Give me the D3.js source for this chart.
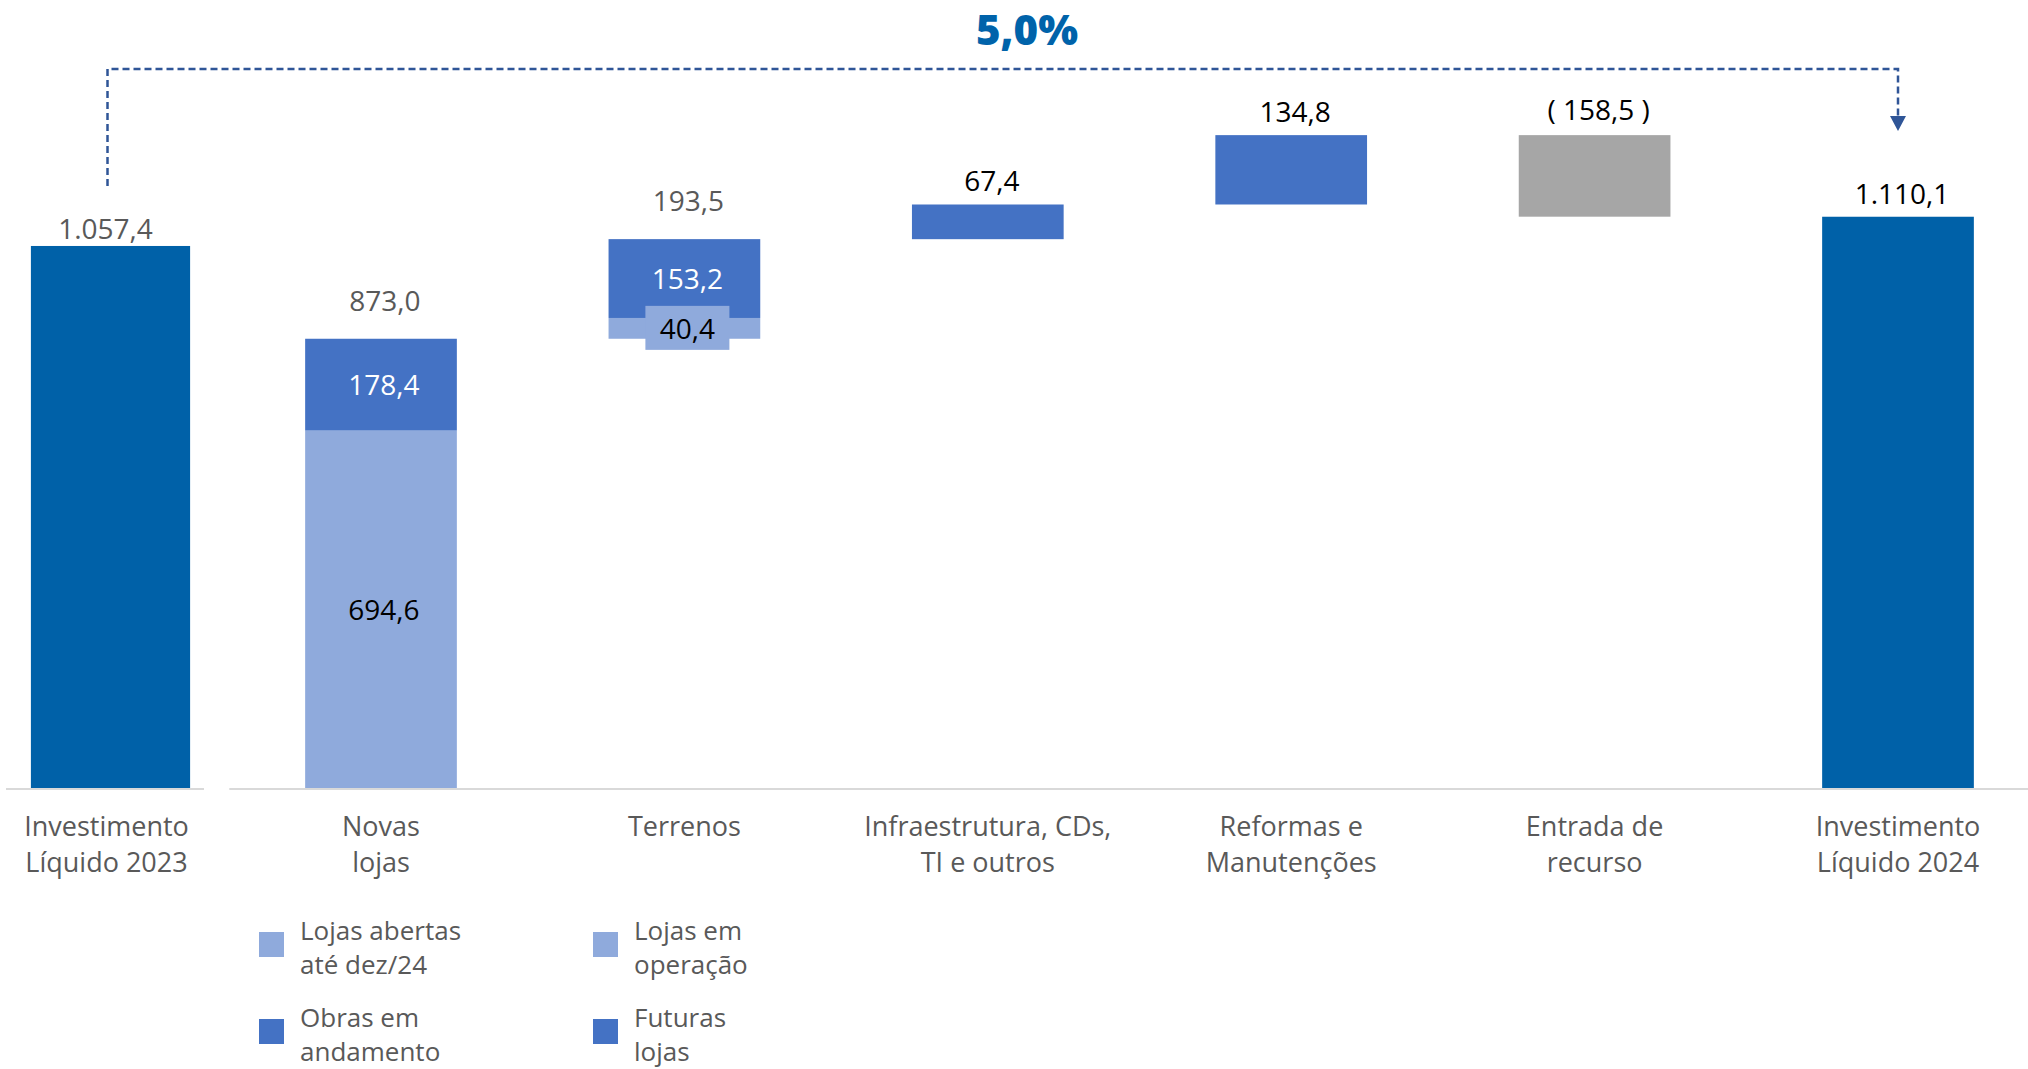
<!DOCTYPE html>
<html>
<head>
<meta charset="utf-8">
<script src="https://cdn.jsdelivr.net/npm/d3@7"></script>
<style>
  html, body { margin: 0; padding: 0; background: #ffffff; }
  svg { display: block; font-family: "Open Sans", "Noto Sans", sans-serif; }
</style>
</head>
<body>
<script>
// ---------------- DATA ----------------
const firstCategory = ["Investimento\nLíquido 2023"];
const firstValue = [1057.4];

const categories = [
  "Novas\nlojas",
  "Terrenos",
  "Infraestrutura, CDs,\nTI e outros",
  "Reformas e\nManutenções",
  "Entrada de\nrecurso",
  "Investimento\nLíquido 2024"
];
// change of each step (last one is the final total)
const stepValues = [873.0, 193.5, 67.4, 134.8, -158.5, 1110.1];
// stacked split for the first two steps
const lightParts = [694.6, 40.4];
const darkParts = [178.4, 153.2];

const growthLabel = "5,0%";

const legendLabels = [
  ["Lojas abertas", "até dez/24"],
  ["Lojas em", "operação"],
  ["Obras em", "andamento"],
  ["Futuras", "lojas"]
];

// ---------------- STYLE ----------------
const C_TOTAL = "#0061A8";
const C_DARK = "#4472C4";
const C_LIGHT = "#8FAADC";
const C_GRAY = "#A6A6A6";
const C_LINE = "#2F5597";
const C_TEXT = "#595959";
const legendColors = [C_LIGHT, C_LIGHT, C_DARK, C_DARK];

const W = 2028, H = 1069;
const baseY = 788;

const loc = d3.formatLocale({decimal: ",", thousands: ".", grouping: [3], currency: ["R$", ""]});
const f1 = loc.format(",.1f");
const fmt = v => v < 0 ? "( " + f1(-v) + " )" : f1(v);

const svg = d3.select("body").append("svg")
  .attr("width", W).attr("height", H);

// ---------------- SCALES ----------------
const x1 = d3.scaleBand().domain(firstCategory).range([11, 210])
  .paddingInner(0).paddingOuter(0.125);
const y1 = d3.scaleLinear().domain([0, 1100]).range([baseY, baseY - 1100 * 0.5126]);

const x2 = d3.scaleBand().domain(categories).range([229.3, 2049.7])
  .paddingInner(0.5).paddingOuter(0.25);
const y2 = d3.scaleLinear().domain([0, 1300]).range([baseY, baseY - 1300 * 0.5146]);

// ---------------- AXIS LINES ----------------
svg.append("line").attr("x1", 6).attr("x2", 204).attr("y1", baseY + 1).attr("y2", baseY + 1)
  .attr("stroke", "#D9D9D9").attr("stroke-width", 2);
svg.append("line").attr("x1", x2.range()[0]).attr("x2", W).attr("y1", baseY + 1).attr("y2", baseY + 1)
  .attr("stroke", "#D9D9D9").attr("stroke-width", 2);

// ---------------- PANEL 1 ----------------
svg.selectAll("rect.p1").data(firstCategory).enter().append("rect")
  .attr("class", "p1")
  .attr("x", d => x1(d)).attr("width", x1.bandwidth())
  .attr("y", (d, i) => y1(firstValue[i]))
  .attr("height", (d, i) => y1(0) - y1(firstValue[i]))
  .attr("fill", C_TOTAL);

svg.selectAll("text.p1lab").data(firstCategory).enter().append("text")
  .attr("class", "p1lab")
  .attr("x", d => x1(d) + x1.bandwidth() / 2 - 5)
  .attr("y", (d, i) => y1(firstValue[i]) - 7)
  .attr("text-anchor", "middle").attr("font-size", 28).attr("fill", C_TEXT)
  .text((d, i) => fmt(firstValue[i]));

// ---------------- PANEL 2 (waterfall) ----------------
const segs = [];
const topLabels = [];
let run = 0;
categories.forEach((c, i) => {
  const v = stepValues[i];
  if (i < lightParts.length) {
    segs.push({c, y0: run, y1: run + lightParts[i], fill: C_LIGHT, label: fmt(lightParts[i]), lc: "#000", lightLabel: true});
    segs.push({c, y0: run + lightParts[i], y1: run + lightParts[i] + darkParts[i], fill: C_DARK, label: fmt(darkParts[i]), lc: "#fff"});
    topLabels.push({c, top: run + v, text: fmt(v), color: C_TEXT, off: 28});
    run += v;
  } else if (i === categories.length - 1) {
    segs.push({c, y0: 0, y1: v, fill: C_TOTAL});
    topLabels.push({c, top: v, text: fmt(v), color: "#000", off: 13});
  } else if (v < 0) {
    segs.push({c, y0: run + v, y1: run, fill: C_GRAY});
    topLabels.push({c, top: run, text: fmt(v), color: "#000", off: 15});
    run += v;
  } else {
    segs.push({c, y0: run, y1: run + v, fill: C_DARK});
    topLabels.push({c, top: run + v, text: fmt(v), color: "#000", off: 13});
    run += v;
  }
});

svg.selectAll("rect.seg").data(segs).enter().append("rect")
  .attr("class", "seg")
  .attr("x", d => x2(d.c)).attr("width", x2.bandwidth())
  .attr("y", d => y2(d.y1))
  .attr("height", d => y2(d.y0) - y2(d.y1))
  .attr("fill", d => d.fill);

// inner labels
const inner = segs.filter(d => d.label);
const innerG = svg.selectAll("g.inner").data(inner).enter().append("g").attr("class", "inner");
innerG.each(function(d) {
  const g = d3.select(this);
  const cx = x2(d.c) + x2.bandwidth() / 2 + 3;
  const cy = (y2(d.y0) + y2(d.y1)) / 2;
  g.append("text")
    .attr("x", cx).attr("y", cy + 10.5)
    .attr("text-anchor", "middle").attr("font-size", 28)
    .attr("fill", d.lc).text(d.label);
  if (d.lightLabel && (y2(d.y0) - y2(d.y1)) < 40) {
    g.insert("rect", "text")
      .attr("x", cx - 42).attr("width", 84)
      .attr("y", cy - 22.5).attr("height", 44)
      .attr("fill", C_LIGHT);
  }
});

svg.selectAll("text.top").data(topLabels).enter().append("text")
  .attr("class", "top")
  .attr("x", d => x2(d.c) + x2.bandwidth() / 2 + 4)
  .attr("y", d => y2(d.top) - d.off)
  .attr("text-anchor", "middle").attr("font-size", 28)
  .attr("fill", d => d.color).text(d => d.text);

// ---------------- CATEGORY LABELS ----------------
function catLabels(scale, cats, dx) {
  const g = svg.append("g");
  cats.forEach(c => {
    const t = g.append("text")
      .attr("text-anchor", "middle").attr("font-size", 27).attr("fill", C_TEXT);
    c.split("\n").forEach((line, k) => {
      t.append("tspan").attr("x", scale(c) + scale.bandwidth() / 2 + dx)
        .attr("y", 836 + k * 36).text(line);
    });
  });
}
catLabels(x1, firstCategory, -4);
catLabels(x2, categories, 0);

// ---------------- CONNECTOR ----------------
const xa = x1(firstCategory[0]) + x1.bandwidth() / 2 - 3;
const xb = x2(categories[categories.length - 1]) + x2.bandwidth() / 2;
const lineY = 69;
svg.append("path")
  .attr("d", `M${xa},186 L${xa},${lineY} L${xb},${lineY} L${xb},117`)
  .attr("fill", "none").attr("stroke", C_LINE).attr("stroke-width", 2.5)
  .attr("stroke-dasharray", "7,4");
svg.append("path")
  .attr("d", `M${xb - 8},116 L${xb + 8},116 L${xb},131 Z`)
  .attr("fill", C_LINE);

svg.append("text")
  .attr("x", 1027).attr("y", 45)
  .attr("text-anchor", "middle").attr("font-size", 42).attr("font-weight", 800)
  .attr("fill", "#0063AA").text(growthLabel);

// ---------------- LEGEND ----------------
const legX = [259, 593];
const legY = [940, 1027];
legendLabels.forEach((lines, i) => {
  const col = i % 2, row = Math.floor(i / 2);
  const g = svg.append("g");
  g.append("rect").attr("x", legX[col]).attr("y", legY[row] - 8)
    .attr("width", 25).attr("height", 25).attr("fill", legendColors[i]);
  const t = g.append("text").attr("font-size", 26).attr("fill", C_TEXT);
  lines.forEach((l, k) => {
    t.append("tspan").attr("x", legX[col] + 41).attr("y", legY[row] + k * 34).text(l);
  });
});
</script>
</body>
</html>
